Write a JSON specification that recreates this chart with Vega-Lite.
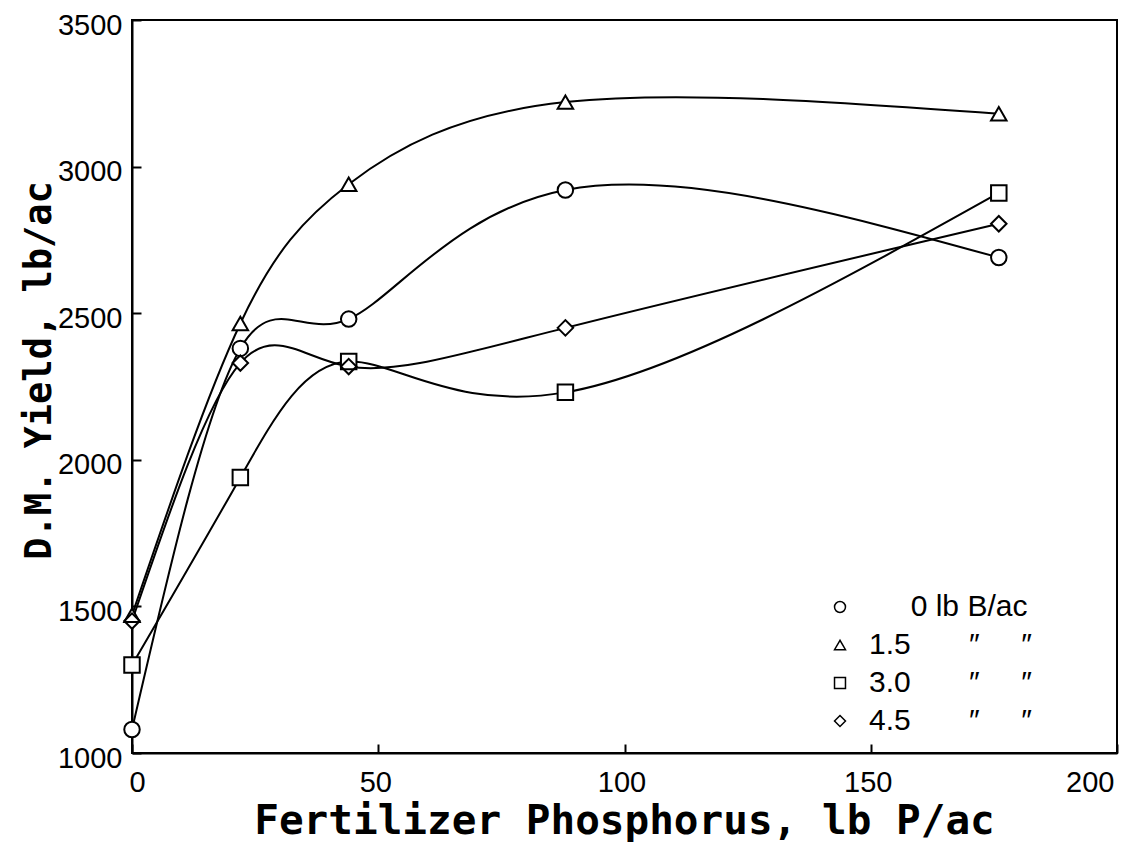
{
  "$schema": "https://vega.github.io/schema/vega-lite/v6.json",
  "width": 985,
  "height": 733,
  "autosize": "none",
  "padding": {"left": 132, "top": 20, "right": 30, "bottom": 93},
  "background": "white",
  "data": {
    "values": [
      {"P": 0, "yield": 1080, "B": "0"},
      {"P": 22, "yield": 2380, "B": "0"},
      {"P": 44, "yield": 2480, "B": "0"},
      {"P": 88, "yield": 2920, "B": "0"},
      {"P": 176, "yield": 2690, "B": "0"},
      {"P": 0, "yield": 1470, "B": "1.5"},
      {"P": 22, "yield": 2465, "B": "1.5"},
      {"P": 44, "yield": 2940, "B": "1.5"},
      {"P": 88, "yield": 3220, "B": "1.5"},
      {"P": 176, "yield": 3180, "B": "1.5"},
      {"P": 0, "yield": 1300, "B": "3.0"},
      {"P": 22, "yield": 1940, "B": "3.0"},
      {"P": 44, "yield": 2335, "B": "3.0"},
      {"P": 88, "yield": 2230, "B": "3.0"},
      {"P": 176, "yield": 2910, "B": "3.0"},
      {"P": 0, "yield": 1450, "B": "4.5"},
      {"P": 22, "yield": 2330, "B": "4.5"},
      {"P": 44, "yield": 2318, "B": "4.5"},
      {"P": 88, "yield": 2450, "B": "4.5"},
      {"P": 176, "yield": 2805, "B": "4.5"}
    ]
  },
  "encoding": {
    "x": {
      "field": "P",
      "type": "quantitative",
      "scale": {"domain": [0, 200], "nice": false, "zero": false},
      "axis": {
        "values": [0, 50, 100, 150, 200],
        "format": "d",
        "title": "Fertilizer Phosphorus, lb P/ac",
        "titleFont": "DejaVu Sans Mono",
        "titleFontWeight": "bold",
        "titleFontSize": 41,
        "titleX": 492,
        "titleY": 80,
        "titleAlign": "center",
        "titleBaseline": "alphabetic",
        "labelOffset": -3,
        "labelPadding": 24
      }
    },
    "y": {
      "field": "yield",
      "type": "quantitative",
      "scale": {"domain": [1000, 3500], "nice": false, "zero": false},
      "axis": {
        "values": [1000, 1500, 2000, 2500, 3000, 3500],
        "format": "d",
        "title": "D.M. Yield, lb/ac",
        "titleFont": "DejaVu Sans Mono",
        "titleFontWeight": "bold",
        "titleFontSize": 37,
        "titleX": -82,
        "titleY": 350,
        "titleAngle": -90,
        "titleAlign": "center",
        "titleBaseline": "alphabetic",
        "labelOffset": 5,
        "labelPadding": 19
      }
    }
  },
  "layer": [
    {
      "mark": {"type": "line", "interpolate": "natural", "color": "black", "strokeWidth": 2},
      "encoding": {"detail": {"field": "B", "type": "nominal"}}
    },
    {
      "mark": {"type": "point", "filled": true, "color": "white", "size": 240, "opacity": 1},
      "encoding": {
        "shape": {
          "field": "B",
          "type": "nominal",
          "scale": {"domain": ["0", "1.5", "3.0", "4.5"], "range": ["circle", "triangle-up", "square", "diamond"]},
          "legend": null
        }
      }
    },
    {
      "mark": {"type": "point", "filled": false, "color": "black", "strokeWidth": 2, "size": 240, "opacity": 1},
      "encoding": {
        "shape": {
          "field": "B",
          "type": "nominal",
          "scale": {"domain": ["0", "1.5", "3.0", "4.5"], "range": ["circle", "triangle-up", "square", "diamond"]},
          "legend": {
            "title": null,
            "orient": "none",
            "legendX": 693,
            "legendY": 572,
            "padding": 0,
            "symbolSize": 120,
            "symbolStrokeWidth": 1.5,
            "labelFont": "Liberation Sans",
            "labelFontSize": 30,
            "labelColor": "black",
            "labelOffset": 14,
            "rowPadding": 8,
            "labelLimit": 400,
            "labelExpr": "datum.label == '0' ? '\u200b\u00a0\u00a0\u00a0\u00a0\u00a00 lb B/ac' : datum.label + '\u00a0\u00a0\u00a0\u00a0\u00a0\u00a0\u00a0\u2033\u00a0\u00a0\u00a0\u00a0\u00a0\u2033'"
          }
        }
      }
    }
  ],
  "resolve": {"scale": {"shape": "independent"}, "legend": {"shape": "independent"}},
  "config": {
    "view": {"stroke": "black", "strokeWidth": 2},
    "axis": {
      "domainColor": "black",
      "domainWidth": 2,
      "tickColor": "black",
      "tickWidth": 2,
      "tickSize": -9,
      "grid": false,
      "labelFont": "Liberation Sans",
      "labelFontSize": 29,
      "labelColor": "black",
      "titleColor": "black"
    }
  }
}
